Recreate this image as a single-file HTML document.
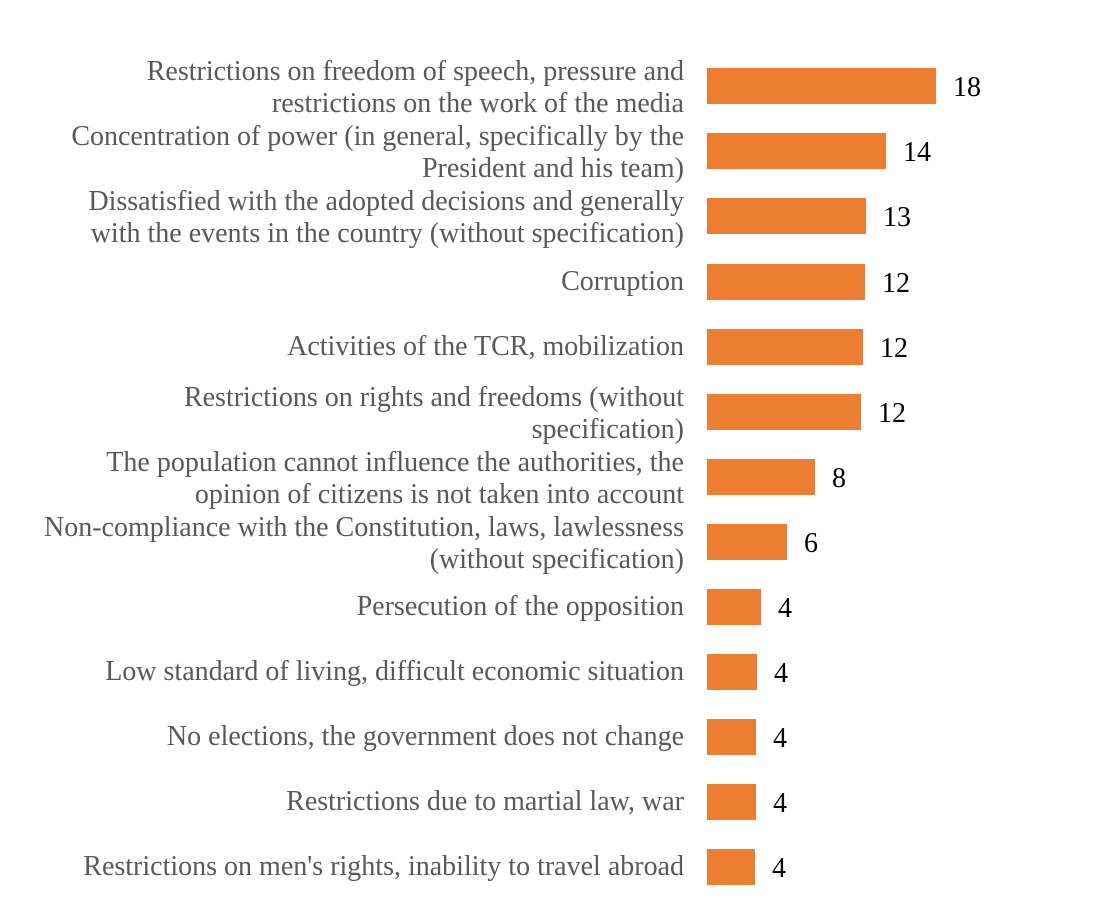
<!DOCTYPE html>
<html><head><style>
body{margin:0;background:#fff;}
#c{position:relative;width:1101px;height:922px;font-family:"Liberation Serif",serif;}
.b{position:absolute;left:707px;height:36px;background:#ED7D31;}
.l{position:absolute;right:417px;width:700px;text-align:right;color:#595959;font-size:28px;line-height:32px;display:flex;flex-direction:column;justify-content:center;height:70px;}
.v{position:absolute;font-size:28px;color:#000;line-height:40px;}
</style></head><body><div id="c">
<div class="b" style="top:68px;width:229px"></div><div class="v" style="top:68px;left:953px">18</div>
<div class="l" style="top:53px">Restrictions on freedom of speech, pressure and<br>restrictions on the work of the media</div>
<div class="b" style="top:133px;width:179px"></div><div class="v" style="top:133px;left:903px">14</div>
<div class="l" style="top:118px">Concentration of power (in general, specifically by the<br>President and his team)</div>
<div class="b" style="top:198px;width:159px"></div><div class="v" style="top:198px;left:883px">13</div>
<div class="l" style="top:183px">Dissatisfied with the adopted decisions and generally<br>with the events in the country (without specification)</div>
<div class="b" style="top:264px;width:158px"></div><div class="v" style="top:264px;left:882px">12</div>
<div class="l" style="top:247px">Corruption</div>
<div class="b" style="top:329px;width:156px"></div><div class="v" style="top:329px;left:880px">12</div>
<div class="l" style="top:312px">Activities of the TCR, mobilization</div>
<div class="b" style="top:394px;width:154px"></div><div class="v" style="top:394px;left:878px">12</div>
<div class="l" style="top:379px">Restrictions on rights and freedoms (without<br>specification)</div>
<div class="b" style="top:459px;width:108px"></div><div class="v" style="top:459px;left:832px">8</div>
<div class="l" style="top:444px">The population cannot influence the authorities, the<br>opinion of citizens is not taken into account</div>
<div class="b" style="top:524px;width:80px"></div><div class="v" style="top:524px;left:804px">6</div>
<div class="l" style="top:509px">Non-compliance with the Constitution, laws, lawlessness<br>(without specification)</div>
<div class="b" style="top:589px;width:54px"></div><div class="v" style="top:589px;left:778px">4</div>
<div class="l" style="top:572px">Persecution of the opposition</div>
<div class="b" style="top:654px;width:50px"></div><div class="v" style="top:654px;left:774px">4</div>
<div class="l" style="top:637px">Low standard of living, difficult economic situation</div>
<div class="b" style="top:719px;width:49px"></div><div class="v" style="top:719px;left:773px">4</div>
<div class="l" style="top:702px">No elections, the government does not change</div>
<div class="b" style="top:784px;width:49px"></div><div class="v" style="top:784px;left:773px">4</div>
<div class="l" style="top:767px">Restrictions due to martial law, war</div>
<div class="b" style="top:849px;width:48px"></div><div class="v" style="top:849px;left:772px">4</div>
<div class="l" style="top:832px">Restrictions on men's rights, inability to travel abroad</div>
</div></body></html>
